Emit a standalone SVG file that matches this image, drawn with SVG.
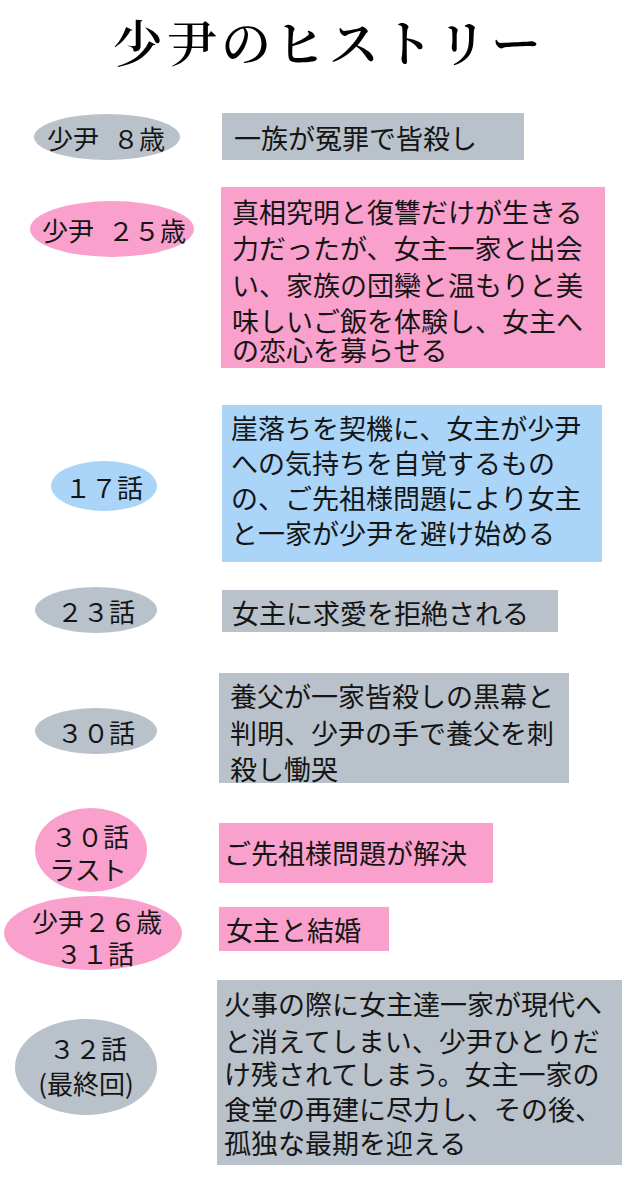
<svg xmlns="http://www.w3.org/2000/svg" width="640" height="1200" viewBox="0 0 640 1200">
<style>
text{font-family:"Noto Sans CJK JP","Noto Sans CJK SC",sans-serif;fill:#151515;dominant-baseline:central}
.title{font-family:"Noto Serif CJK JP","Noto Sans CJK JP",serif;font-size:50px;font-weight:600;letter-spacing:4px;text-anchor:middle;fill:#000}
.lbl{font-size:26px;text-anchor:middle}
.body{font-size:27px}
.gray{fill:#b9c1cb}
.pink{fill:#f9a1cc}
.blue{fill:#aad5f9}
</style>
<rect width="640" height="1200" fill="#ffffff"/>
<text class="title" x="329" y="40">少尹のヒストリー</text>
<g id="connectors"/>
<g id="n1">
<ellipse class="gray" cx="107" cy="137" rx="73" ry="23"/>
<text class="lbl" x="106" y="137" word-spacing="8">少尹 ８歳</text>
<rect class="gray" x="222" y="113" width="302" height="47"/>
<text class="body" x="234" y="137">一族が冤罪で皆殺し</text>
</g>
<g id="n2">
<ellipse class="pink" cx="112" cy="229" rx="82" ry="28"/>
<text class="lbl" x="114" y="229" word-spacing="8">少尹 ２５歳</text>
<rect class="pink" x="221" y="187" width="384" height="181"/>
<text class="body" x="232" y="211">真相究明と復讐だけが生きる</text>
<text class="body" x="232" y="247">力だったが、女主一家と出会</text>
<text class="body" x="232" y="284">い、家族の団欒と温もりと美</text>
<text class="body" x="232" y="320">味しいご飯を体験し、女主へ</text>
<text class="body" x="232" y="349">の恋心を募らせる</text>
</g>
<g id="n3">
<ellipse class="blue" cx="104" cy="486" rx="53" ry="25"/>
<text class="lbl" x="104" y="486">１７話</text>
<rect class="blue" x="222" y="405" width="380" height="157"/>
<text class="body" x="231" y="427">崖落ちを契機に、女主が少尹</text>
<text class="body" x="231" y="462">への気持ちを自覚するもの</text>
<text class="body" x="231" y="497">の、ご先祖様問題により女主</text>
<text class="body" x="231" y="532">と一家が少尹を避け始める</text>
</g>
<g id="n4">
<ellipse class="gray" cx="96" cy="610" rx="61" ry="23"/>
<text class="lbl" x="96" y="610">２３話</text>
<rect class="gray" x="222" y="590" width="336" height="42"/>
<text class="body" x="232" y="612">女主に求愛を拒絶される</text>
</g>
<g id="n5">
<ellipse class="gray" cx="96" cy="731" rx="61" ry="23"/>
<text class="lbl" x="96" y="731">３０話</text>
<rect class="gray" x="219" y="673" width="350" height="110"/>
<text class="body" x="230" y="695">養父が一家皆殺しの黒幕と</text>
<text class="body" x="230" y="732">判明、少尹の手で養父を刺</text>
<text class="body" x="230" y="768">殺し慟哭</text>
</g>
<g id="n6">
<ellipse class="pink" cx="91" cy="850" rx="56" ry="42"/>
<text class="lbl" x="90" y="835">３０話</text>
<text class="lbl" x="88" y="868">ラスト</text>
<rect class="pink" x="219" y="823" width="274" height="60"/>
<text class="body" x="224" y="852">ご先祖様問題が解決</text>
</g>
<g id="n7">
<ellipse class="pink" cx="93" cy="933" rx="89" ry="37"/>
<text class="lbl" x="97" y="920">少尹２６歳</text>
<text class="lbl" x="95" y="952">３１話</text>
<rect class="pink" x="219" y="907" width="170" height="44"/>
<text class="body" x="226" y="929">女主と結婚</text>
</g>
<g id="n8">
<ellipse class="gray" cx="86" cy="1067" rx="71" ry="48"/>
<text class="lbl" x="88" y="1047">３２話</text>
<text class="lbl" x="86" y="1082">(最終回)</text>
<rect class="gray" x="217" y="980" width="405" height="185"/>
<text class="body" x="224" y="1003">火事の際に女主達一家が現代へ</text>
<text class="body" x="224" y="1040">と消えてしまい、少尹ひとりだ</text>
<text class="body" x="224" y="1073">け残されてしまう。女主一家の</text>
<text class="body" x="224" y="1108">食堂の再建に尽力し、その後、</text>
<text class="body" x="224" y="1142">孤独な最期を迎える</text>
</g>
</svg>
